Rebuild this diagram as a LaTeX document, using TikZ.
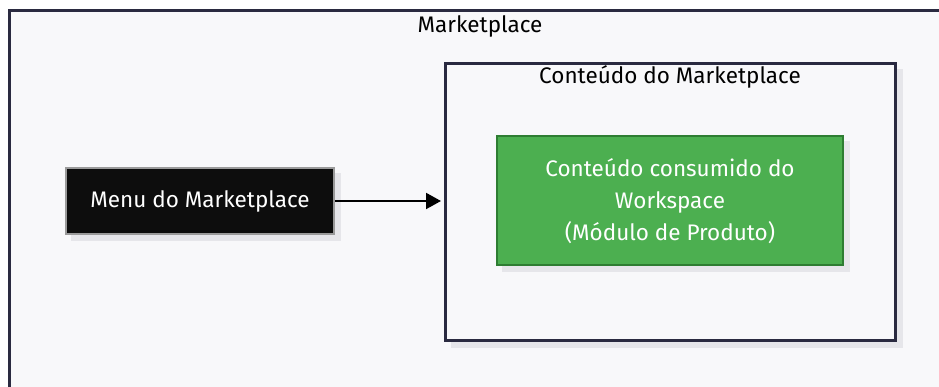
\documentclass[tikz,border=0pt]{standalone}
\usepackage{fontspec}
\setmainfont{Fira Sans}
\usetikzlibrary{arrows.meta}
\definecolor{pagebg}{HTML}{FFFFFF}
\definecolor{areabg}{HTML}{F8F8FA}
\definecolor{frame}{HTML}{2A2A40}
\definecolor{shade}{HTML}{E6E6EA}
\definecolor{menufill}{HTML}{0D0D0D}
\definecolor{menuline}{HTML}{9A9A9A}
\definecolor{greenfill}{HTML}{4CAF50}
\definecolor{greenline}{HTML}{2E7D32}
\tikzset{
  x=1pt, y=-1pt,
  lbl/.style={font=\fontsize{22.5}{32}\selectfont, align=center, inner sep=0pt},
  shadowbox/.style={fill=shade, draw=none},
}
\begin{document}
\begin{tikzpicture}
\useasboundingbox (0,0) rectangle (939,387);
\fill[pagebg] (0,0) rectangle (939,387);
\begin{scope}
\clip (0,0) rectangle (939,387);
% outer area
\draw[fill=areabg, draw=frame, line width=3pt] (9.5,10.5) rectangle (960,410);
\end{scope}
\node[lbl, text=black] (title) at (480,26) {Marketplace};

% content panel
\fill[shadowbox] (451,69) rectangle (903,348);
\draw[fill=areabg, draw=frame, line width=3pt] (445.5,63.5) rectangle (895.5,340.5);
\node[lbl, text=black] (ctitle) at (670,77) {Conteúdo do Marketplace};

% product module
\fill[shadowbox] (502,141) rectangle (850,272);
\node[draw=greenline, fill=greenfill, line width=2pt, minimum width=346pt, minimum height=129pt, inner sep=0pt] (prod) at (670,200.5) {};
\node[lbl, text=white] at (670,201) {Conteúdo consumido do\\Workspace\\(Módulo de Produto)};

% menu
\fill[shadowbox] (71,173) rectangle (341,241);
\node[draw=menuline, fill=menufill, line width=2pt, minimum width=268pt, minimum height=66pt, inner sep=0pt, text=white, font=\fontsize{22.5}{32}\selectfont] (menu) at (200,201) {Menu do Marketplace};

\coordinate (panelleft) at (441,201);
\draw[line width=2pt, -{Triangle[length=15pt, width=16pt]}] (menu.east) -- (panelleft);
\end{tikzpicture}
\end{document}
